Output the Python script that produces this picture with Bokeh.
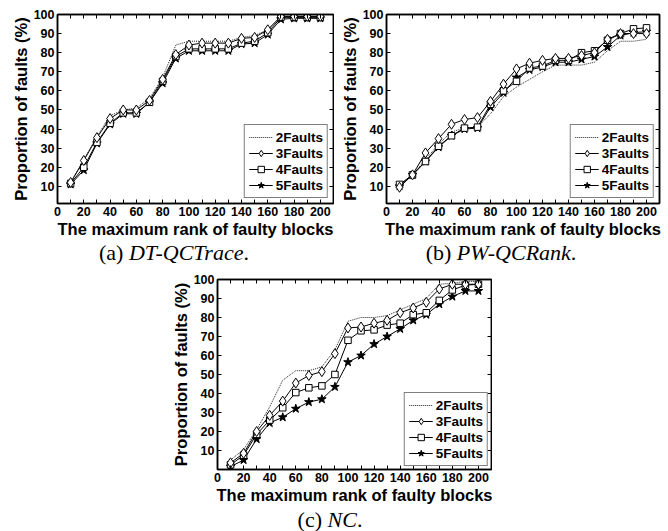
from bokeh.plotting import figure
from bokeh.models import (Range1d, FixedTicker, LinearAxis, Legend, LegendItem, Div,
                          Spacer, CustomLabelingPolicy)
from bokeh.layouts import column, row
from bokeh.embed import file_html
from bokeh.resources import INLINE

# ---- data ----
ranks = [10, 20, 30, 40, 50, 60, 70, 80, 90, 100,
         110, 120, 130, 140, 150, 160, 170, 180, 190, 200]
x_major_ticks = [0, 20, 40, 60, 80, 100, 120, 140, 160, 180, 200]
x_minor_ticks = [10, 30, 50, 70, 90, 110, 130, 150, 170, 190, 210]
y_ticks = [10, 20, 30, 40, 50, 60, 70, 80, 90, 100]
series_names = ["2Faults", "3Faults", "4Faults", "5Faults"]

# (a) DT-QCTrace
a_2f = [12, 24, 36, 47, 50, 51, 56, 67, 84, 86, 86, 86, 86, 88, 89, 92, 99, 99, 99, 99]
a_3f = [12, 23.5, 35.5, 45.5, 50, 50, 55, 66, 79, 84, 85, 85, 85, 87.5, 88, 92, 99, 99, 99, 99]
a_4f = [11.5, 20, 33, 43, 48.5, 48.5, 54, 65, 78, 82, 82, 82, 82, 85, 86, 90.5, 98.5, 98.5, 98.5, 98.5]
a_5f = [11, 18.5, 32.5, 42.5, 48, 48, 54, 64, 77, 81, 81, 81, 81, 84.5, 85, 89.5, 97.5, 98, 98, 98]

# (b) PW-QCRank
b_2f = [10, 16, 24, 32, 38.5, 40.5, 41, 48, 57, 62, 66, 70, 73.5, 73.5, 73.5, 75, 81, 86, 86, 87]
b_3f = [9.5, 16, 27.5, 35, 42.5, 45, 46, 54.5, 63.5, 71.5, 74.5, 76, 77, 77, 78.5, 80, 87, 90, 90, 90]
b_4f = [11, 16, 23, 31, 36.5, 40.5, 41, 53, 60, 65, 72, 73, 76, 76, 80, 81, 86.5, 90, 92.5, 93]
b_5f = [10, 16, 23, 30.5, 36.5, 40, 40.5, 51.5, 59, 67, 71, 72.5, 75, 75, 76.5, 78, 83, 89, 90.5, 91]

# (c) NC
c_2f = [5, 10.5, 21, 33, 47, 52, 52, 54, 63, 78, 80, 80, 81, 84, 87, 90, 97.5, 98, 99, 99]
c_3f = [3.5, 8.5, 20, 28.5, 36, 45.5, 49.5, 51.5, 61, 74.5, 75, 77, 78.5, 82.5, 85, 88, 95, 97.5, 97.5, 97.5]
c_4f = [2.5, 7.5, 18.5, 26, 32.5, 40.5, 43, 44, 50, 68, 73, 73.5, 76, 77, 81.5, 82.5, 89, 94.5, 97, 97.5]
c_5f = [1.5, 5, 16, 24.5, 27.5, 32, 35.5, 37, 43.5, 56.5, 60, 66, 70, 74, 78.5, 81.5, 87, 91, 94, 94]

FONT = "Liberation Sans"
SERIF = "Liberation Serif"


def style_axis(ax, ticker, hidden=False):
    ax.ticker = ticker
    ax.axis_line_color = "black"
    ax.axis_line_width = 1.5
    ax.major_tick_line_color = "black"
    ax.minor_tick_line_color = "black"
    ax.major_tick_in = 4
    ax.major_tick_out = 0
    ax.minor_tick_in = 4
    ax.minor_tick_out = 0
    ax.major_label_text_font = FONT
    ax.major_label_text_font_style = "bold"
    ax.major_label_text_color = "black"
    ax.axis_label_text_font = FONT
    ax.axis_label_text_font_style = "bold"
    ax.axis_label_text_font_size = "16.5px"
    ax.axis_label_text_color = "black"
    if hidden:
        ax.major_label_text_font_size = "1px"
        ax.major_label_text_color = None
        ax.major_label_standoff = 0
        ax.major_label_policy = CustomLabelingPolicy(code="return new Set()")
    else:
        ax.major_label_text_font_size = "12.5px"
        ax.major_label_standoff = 3
        ax.axis_label_standoff = 1


def make_panel(s2, s3, s4, s5, width, height, bl, br, bt, bb, y_lo, legend_margin):
    p = figure(width=width, height=height,
               x_range=Range1d(0, 210), y_range=Range1d(y_lo, 100),
               output_backend="svg", toolbar_location=None,
               min_border_left=bl, min_border_right=br,
               min_border_top=bt, min_border_bottom=bb)
    p.grid.visible = False
    p.outline_line_color = "black"
    p.outline_line_width = 1.5
    p.background_fill_color = "white"

    xt = FixedTicker(ticks=x_major_ticks, minor_ticks=x_minor_ticks)
    yt = FixedTicker(ticks=y_ticks, minor_ticks=[])

    style_axis(p.xaxis[0], xt)
    style_axis(p.yaxis[0], yt)
    p.xaxis[0].axis_label = "The maximum rank of faulty blocks"
    p.yaxis[0].axis_label = "Proportion of faults (%)"

    top = LinearAxis()
    style_axis(top, FixedTicker(ticks=x_major_ticks, minor_ticks=x_minor_ticks), hidden=True)
    p.add_layout(top, "above")
    right = LinearAxis()
    style_axis(right, FixedTicker(ticks=y_ticks, minor_ticks=[]), hidden=True)
    p.add_layout(right, "right")

    r2 = p.line(ranks, s2, line_color="#222222", line_width=1, line_dash="1 1")
    r5l = p.line(ranks, s5, line_color="black", line_width=1)
    r5m = p.scatter(ranks, s5, marker="star", size=9, fill_color="black", line_color="black")
    r4l = p.line(ranks, s4, line_color="black", line_width=1)
    r4m = p.scatter(ranks, s4, marker="square", size=6.5, fill_color="white", line_color="black")
    r3l = p.line(ranks, s3, line_color="black", line_width=1)
    r3m = p.scatter(ranks, s3, marker="diamond", size=10, fill_color="white", line_color="black")

    legend = Legend(items=[
        LegendItem(label=series_names[0], renderers=[r2]),
        LegendItem(label=series_names[1], renderers=[r3l, r3m]),
        LegendItem(label=series_names[2], renderers=[r4l, r4m]),
        LegendItem(label=series_names[3], renderers=[r5l, r5m]),
    ], location="bottom_right")
    legend.label_text_font = FONT
    legend.label_text_font_style = "bold"
    legend.label_text_font_size = "13.5px"
    legend.label_text_color = "black"
    legend.glyph_width = 24
    legend.glyph_height = 16
    legend.label_height = 16
    legend.label_standoff = 3
    legend.padding = 4
    legend.spacing = 0
    legend.margin = legend_margin
    legend.border_line_color = "black"
    legend.border_line_width = 1.5
    legend.background_fill_color = "white"
    legend.background_fill_alpha = 1
    p.add_layout(legend)
    return p


fa = make_panel(a_2f, a_3f, a_4f, a_5f, 334, 241, 57, 1, 13, 38, 1, 5)
fb = make_panel(b_2f, b_3f, b_4f, b_5f, 334, 241, 52, 9, 14, 37, 1, 5)
fc = make_panel(c_2f, c_3f, c_4f, c_5f, 324, 243, 49, 1, 15, 38, 0, 3)

cap_style = {"font-family": SERIF, "font-size": "22px", "color": "black",
             "text-align": "center", "line-height": "24px"}
cap_a = Div(text="(a) <i>DT-QCTrace</i>.", width=334, height=23, margin=0,
            styles=dict(cap_style, **{"padding-left": "14px", "box-sizing": "border-box"}))
cap_b = Div(text="(b) <i>PW-QCRank</i>.", width=334, height=23, margin=0,
            styles=dict(cap_style))
cap_c = Div(text="(c) <i>NC</i>.", width=660, height=24, margin=0,
            styles=dict(cap_style, **{"line-height": "26px"}))

layout = column(
    row(fa, fb, spacing=0),
    row(cap_a, cap_b, spacing=0),
    row(Spacer(width=168, height=243, margin=0), fc, spacing=0),
    cap_c,
    spacing=0,
)

open("out.html", "w").write(file_html(layout, INLINE))
